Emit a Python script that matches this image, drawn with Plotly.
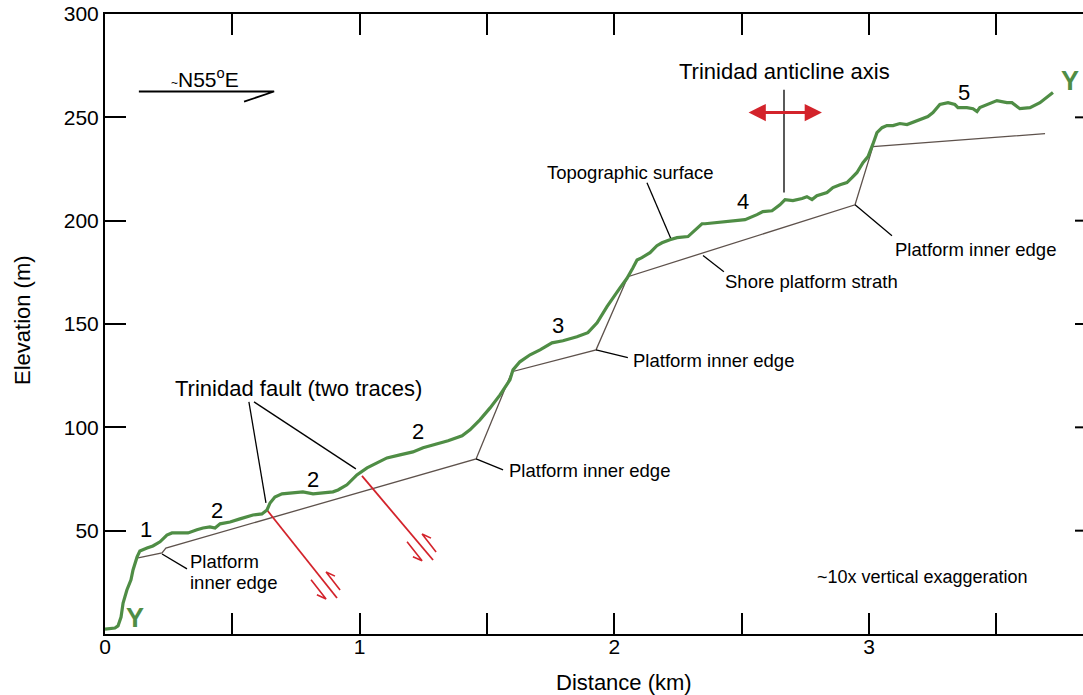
import plotly.graph_objects as go

# Topographic profile along section Y-Y (distance in km, elevation in m)
dist_km = [0.000, 0.039, 0.051, 0.063, 0.071, 0.086, 0.102, 0.110, 0.126, 0.137,
           0.165, 0.188, 0.216, 0.243, 0.263, 0.294, 0.326, 0.361, 0.385, 0.412,
           0.432, 0.452, 0.491, 0.530, 0.581, 0.616, 0.636, 0.648, 0.667, 0.695,
           0.738, 0.777, 0.817, 0.872, 0.895, 0.915, 0.950, 0.989, 1.029, 1.068,
           1.107, 1.158, 1.209, 1.249, 1.288, 1.347, 1.402, 1.433, 1.472, 1.512,
           1.551, 1.590, 1.602, 1.629, 1.669, 1.708, 1.755, 1.798, 1.853, 1.896,
           1.932, 1.971, 2.022, 2.049, 2.073, 2.089, 2.108, 2.140, 2.167, 2.187,
           2.218, 2.246, 2.289, 2.305, 2.324, 2.344, 2.356, 2.403, 2.466, 2.513,
           2.560, 2.583, 2.619, 2.650, 2.670, 2.701, 2.737, 2.756, 2.776, 2.795,
           2.835, 2.858, 2.886, 2.913, 2.933, 2.952, 2.976, 2.996, 3.015, 3.031,
           3.051, 3.070, 3.094, 3.121, 3.149, 3.172, 3.200, 3.231, 3.251, 3.278,
           3.310, 3.337, 3.349, 3.384, 3.408, 3.424, 3.435, 3.463, 3.502, 3.541,
           3.561, 3.592, 3.632, 3.671, 3.722]
elev_m = [2.4, 2.9, 3.9, 8.2, 15.0, 21.3, 26.2, 31.0, 37.3, 40.2,
          41.6, 42.6, 44.6, 47.9, 48.9, 48.9, 48.9, 50.4, 51.3, 51.8,
          51.3, 53.3, 54.2, 55.7, 57.6, 58.1, 60.0, 63.4, 66.3, 67.8,
          68.3, 68.8, 67.8, 68.3, 68.8, 69.7, 72.2, 77.0, 80.4, 82.8,
          85.2, 86.7, 88.1, 90.1, 91.5, 93.5, 95.9, 98.8, 103.6, 109.4,
          115.7, 123.0, 127.8, 131.7, 135.1, 137.5, 140.9, 141.9, 143.8, 145.8,
          150.6, 158.4, 167.5, 172.0, 177.2, 181.0, 182.1, 184.5, 187.9, 189.3,
          190.8, 191.8, 192.3, 194.2, 196.1, 198.5, 198.5, 199.0, 200.0, 200.5,
          202.9, 204.4, 204.8, 207.7, 210.2, 209.7, 210.7, 211.6, 210.2, 212.1,
          213.6, 216.0, 217.4, 218.4, 220.8, 223.2, 228.1, 231.0, 237.0, 242.6,
          245.0, 246.0, 246.0, 247.0, 246.5, 247.5, 248.9, 250.4, 252.3, 256.2,
          257.1, 256.2, 254.7, 254.7, 254.2, 252.8, 254.7, 256.2, 258.1, 257.1,
          257.1, 254.2, 254.7, 257.1, 262.0]

# Shore-platform straths joined by their inner-edge risers
strath_km = [0.130, 0.224, 0.239, 1.457, 1.598, 1.928, 2.053, 2.945, 3.015, 3.691]
strath_m = [36.8, 39.2, 41.6, 84.7, 126.9, 137.5, 172.9, 207.7, 235.8, 242.1]

# Trinidad fault traces
fault1_km = [0.636, 0.911]
fault1_m = [60.0, 17.4]
fault2_km = [1.009, 1.288]
fault2_m = [76.5, 35.8]

# Slip-sense half arrows beside each trace (tail, tip, barb)
slip_km = [0.809, 0.868, 0.832, None, 0.923, 0.868, 0.903, None,
           1.186, 1.245, 1.209, None, 1.300, 1.245, 1.280]
slip_m = [26.2, 16.9, 19.0, None, 21.3, 30.0, 28.0, None,
          44.6, 35.4, 37.4, None, 39.7, 48.4, 46.4]

# Label leader lines and the anticline axis marker
leader_km = [0.565, 0.632, None, 0.585, 0.985, None, 0.224, 0.322, None,
             1.457, 1.563, None, 1.928, 2.053, None, 2.945, 3.090, None,
             2.348, 2.430, None, 2.128, 2.222, None, 2.666, 2.666]
leader_m = [112.3, 63.4, None, 112.3, 79.9, None, 38.7, 31.5, None,
            84.7, 79.4, None, 137.5, 133.7, None, 207.7, 192.7, None,
            183.1, 175.3, None, 218.4, 191.3, None, 263.4, 213.6]

# Section bearing arrow
bearing_km = [0.133, 0.664, 0.546]
bearing_m = [262.5, 262.5, 257.6]

# Fold-axis double arrow extent
fold_km = [2.521, 2.815]
fold_m = 252.3

# Terrace level numbers
level_text = ["1", "2", "2", "2", "3", "4", "5"]
level_km = [0.161, 0.440, 0.817, 1.229, 1.779, 2.505, 3.373]
level_m = [50.8, 60.0, 74.6, 97.8, 149.2, 209.2, 262.0]

x_ticks = [0, 1, 2, 3]
y_ticks = [50, 100, 150, 200, 250, 300]

FONT = "Liberation Sans, Arial, Helvetica, sans-serif"
GREEN = "#4f8d45"
RED = "#d3232b"
STRATH = "#5e524c"

fig = go.Figure()

fig.add_trace(go.Scatter(x=strath_km, y=strath_m, mode="lines",
                         line=dict(color=STRATH, width=1.3), hoverinfo="skip"))
fig.add_trace(go.Scatter(x=leader_km, y=leader_m, mode="lines",
                         line=dict(color="black", width=1.3), hoverinfo="skip"))
fig.add_trace(go.Scatter(x=fault1_km, y=fault1_m, mode="lines",
                         line=dict(color=RED, width=1.8), hoverinfo="skip"))
fig.add_trace(go.Scatter(x=fault2_km, y=fault2_m, mode="lines",
                         line=dict(color=RED, width=1.8), hoverinfo="skip"))
fig.add_trace(go.Scatter(x=slip_km, y=slip_m, mode="lines",
                         line=dict(color=RED, width=1.6), hoverinfo="skip"))
fig.add_trace(go.Scatter(x=bearing_km, y=bearing_m, mode="lines",
                         line=dict(color="black", width=1.8), hoverinfo="skip"))
fig.add_trace(go.Scatter(x=dist_km, y=elev_m, mode="lines",
                         line=dict(color=GREEN, width=3.2), hoverinfo="skip"))

annotations = []


def label(text, x, y, size=18.5, anchor="center", color="black", bold=False):
    annotations.append(dict(
        x=x, y=y, xref="x", yref="y", text=f"<b>{text}</b>" if bold else text,
        showarrow=False, xanchor=anchor, yanchor="middle",
        font=dict(family=FONT, size=size, color=color)))


label("Trinidad fault (two traces)", 0.760, 118.6, size=22)
label("Trinidad anticline axis", 2.666, 272.2, size=22)
label("Topographic surface", 2.065, 223.2)
label("Shore platform strath", 2.426, 170.5, anchor="left")
label("Platform inner edge", 3.094, 186.0, anchor="left")
label("Platform inner edge", 2.065, 132.2, anchor="left")
label("Platform inner edge", 1.578, 78.9, anchor="left")
label("Platform", 0.326, 34.9, anchor="left")
label("inner edge", 0.326, 24.7, anchor="left")
label("~10x vertical exaggeration", 3.208, 27.6, size=18)
label("<span style='font-size:12px'>~</span>N55<sup>o</sup>E", 0.393, 269.2, size=21)
for t, xk, ym in zip(level_text, level_km, level_m):
    label(t, xk, ym, size=22)
label("Y", 0.118, 7.7, size=27, color=GREEN, bold=True)
label("Y", 3.789, 267.8, size=27, color=GREEN, bold=True)

# Horizontal double arrow across the anticline axis
annotations.append(dict(
    x=fold_km[1], y=fold_m, ax=fold_km[0], ay=fold_m, xref="x", yref="y",
    axref="x", ayref="y", text="", showarrow=True, arrowhead=2,
    startarrowhead=2, arrowside="end+start", arrowsize=1.15, startarrowsize=1.15,
    arrowwidth=3, arrowcolor=RED))

# Axis titles
annotations.append(dict(
    x=(624 - 105) / 978, y=-(682 - 634) / 620, xref="paper", yref="paper",
    text="Distance (km)", showarrow=False, xanchor="center", yanchor="middle",
    font=dict(family=FONT, size=22, color="black")))
annotations.append(dict(
    x=-(105 - 22) / 978, y=(634 - 320) / 620, xref="paper", yref="paper",
    text="Elevation (m)", showarrow=False, xanchor="center", yanchor="middle",
    textangle=-90, font=dict(family=FONT, size=22, color="black")))

# Short tick stubs along the right-hand frame
shapes = [dict(type="line", xref="paper", yref="y", x0=1 - 8 / 978, x1=1.0,
               y0=v, y1=v, line=dict(color="black", width=2)) for v in y_ticks[:-1]]

fig.update_layout(
    width=1083, height=695,
    margin=dict(l=105, r=0, t=14, b=61),
    paper_bgcolor="white", plot_bgcolor="white",
    showlegend=False,
    annotations=annotations,
    shapes=shapes,
    font=dict(family=FONT, size=21, color="black"),
    xaxis=dict(range=[0, 3.840], showline=True, linecolor="black", linewidth=2,
               mirror="ticks", ticks="inside", ticklen=21, tickwidth=2,
               tickcolor="black", tickvals=x_ticks, ticklabelstandoff=-7,
               minor=dict(dtick=0.5, tick0=0, ticks="inside", ticklen=21,
                          tickwidth=2, tickcolor="black"),
               showgrid=False, zeroline=False,
               tickfont=dict(family=FONT, size=21, color="black")),
    yaxis=dict(range=[0, 300], showline=True, linecolor="black", linewidth=2,
               ticks="inside", ticklen=21, tickwidth=2, tickcolor="black",
               tickvals=y_ticks, showgrid=False, zeroline=False,
               tickfont=dict(family=FONT, size=21, color="black")),
)

fig.write_html("out.html")
